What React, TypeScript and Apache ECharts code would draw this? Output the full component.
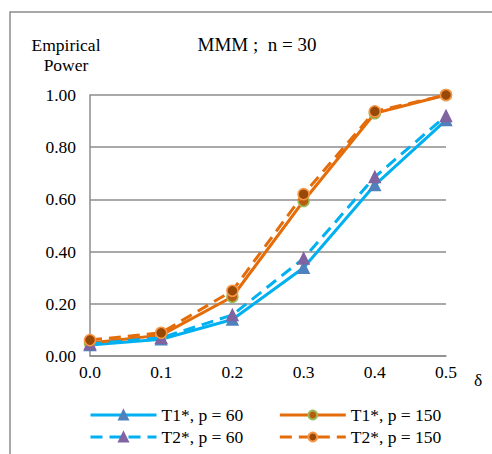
import React, { useEffect, useRef } from "react";
import * as echarts from "echarts";

const deltas = [0.0, 0.1, 0.2, 0.3, 0.4, 0.5];
const t1p60 = [0.042, 0.064, 0.14, 0.338, 0.655, 0.904];
const t1p150 = [0.05, 0.08, 0.227, 0.594, 0.93, 1.0];
const t2p60 = [0.046, 0.07, 0.157, 0.374, 0.686, 0.92];
const t2p150 = [0.061, 0.089, 0.25, 0.62, 0.9375, 1.0];
const seriesNames = ["T1*, p = 60", "T1*, p = 150", "T2*, p = 60", "T2*, p = 150"];

const FONT = "Liberation Serif";
const BLUE = "#00B0F0";
const ORANGE = "#E46C0A";

function pairs(ys: number[]) {
  return deltas.map((x, i) => [x, ys[i]]);
}

export default function App() {
  const ref = useRef<HTMLDivElement>(null);
  useEffect(() => {
    if (!ref.current) return;
    const chart = echarts.init(ref.current, undefined, { renderer: "svg" });
    const mk = (
      name: string,
      ys: number[],
      color: string,
      dashed: boolean,
      symbol: string,
      fill: string,
      border: string,
      size: number
    ) => ({
      name,
      type: "line",
      data: pairs(ys),
      symbol,
      symbolSize: size,
      showAllSymbol: true,
      lineStyle: { color, width: 3, type: dashed ? [12, 7] : "solid" },
      itemStyle: { color: fill, borderColor: border, borderWidth: 1.5 },
      emphasis: { disabled: true },
      z: dashed ? 3 : 2,
    });
    const legendCommon = {
      left: 89,
      padding: 0,
      itemWidth: 66,
      itemHeight: 11,
      itemGap: 35,
      lineStyle: { width: 3 },
      textStyle: { color: "#000", fontSize: 17.5, fontFamily: FONT },
    };
    chart.setOption({
      animation: false,
      textStyle: { fontFamily: FONT },
      grid: { left: 90, right: 46, top: 95, bottom: 98, containLabel: false },
      xAxis: {
        type: "value",
        min: 0,
        max: 0.5,
        interval: 0.1,
        axisLine: { show: true, lineStyle: { color: "#8C8C8C", width: 1.5 } },
        axisTick: { show: false },
        splitLine: { show: false },
        axisLabel: {
          color: "#000",
          fontSize: 17.5,
          fontFamily: FONT,
          margin: 7,
          formatter: (v: number) => v.toFixed(1),
        },
      },
      yAxis: {
        type: "value",
        min: 0,
        max: 1,
        interval: 0.2,
        axisLine: { show: true, lineStyle: { color: "#8C8C8C", width: 1.5 } },
        axisTick: { show: false },
        splitLine: { show: true, lineStyle: { color: "#8C8C8C", width: 1.5 } },
        axisLabel: {
          color: "#000",
          fontSize: 17.5,
          fontFamily: FONT,
          margin: 14,
          formatter: (v: number) => v.toFixed(2),
        },
      },
      legend: [
        { ...legendCommon, data: [seriesNames[0], seriesNames[1]], top: 406 },
        { ...legendCommon, data: [seriesNames[2], seriesNames[3]], top: 428 },
      ],
      graphic: [
        {
          type: "rect",
          shape: { x: 10, y: 12, width: 600, height: 600 },
          style: { fill: "none", stroke: "#8C8C8C", lineWidth: 1.5 },
          silent: true,
        },
        {
          type: "text",
          x: 257,
          y: 44,
          style: {
            text: "MMM ;  n = 30",
            fontSize: 19,
            fontFamily: FONT,
            fill: "#000",
            align: "center",
            verticalAlign: "middle",
          },
        },
        {
          type: "text",
          x: 66,
          y: 55,
          style: {
            text: "Empirical\nPower",
            fontSize: 17.5,
            lineHeight: 20,
            fontFamily: FONT,
            fill: "#000",
            align: "center",
            verticalAlign: "middle",
          },
        },
        {
          type: "text",
          x: 478,
          y: 380,
          style: {
            text: "δ",
            fontSize: 17.5,
            fontFamily: FONT,
            fill: "#000",
            align: "center",
            verticalAlign: "middle",
          },
        },
      ],
      series: [
        mk(seriesNames[0], t1p60, BLUE, false, "triangle", "#4F81BD", "#4F81BD", 11),
        mk(seriesNames[1], t1p150, ORANGE, false, "circle", "#B85A0F", "#9BBB59", 11),
        mk(seriesNames[2], t2p60, BLUE, true, "triangle", "#8064A2", "#8064A2", 11),
        mk(seriesNames[3], t2p150, ORANGE, true, "circle", "#984807", "#F79646", 11),
      ],
    });
    return () => chart.dispose();
  }, []);
  return <div ref={ref} style={{ width: 492, height: 454, position: "absolute", left: 0, top: 0 }} />;
}
